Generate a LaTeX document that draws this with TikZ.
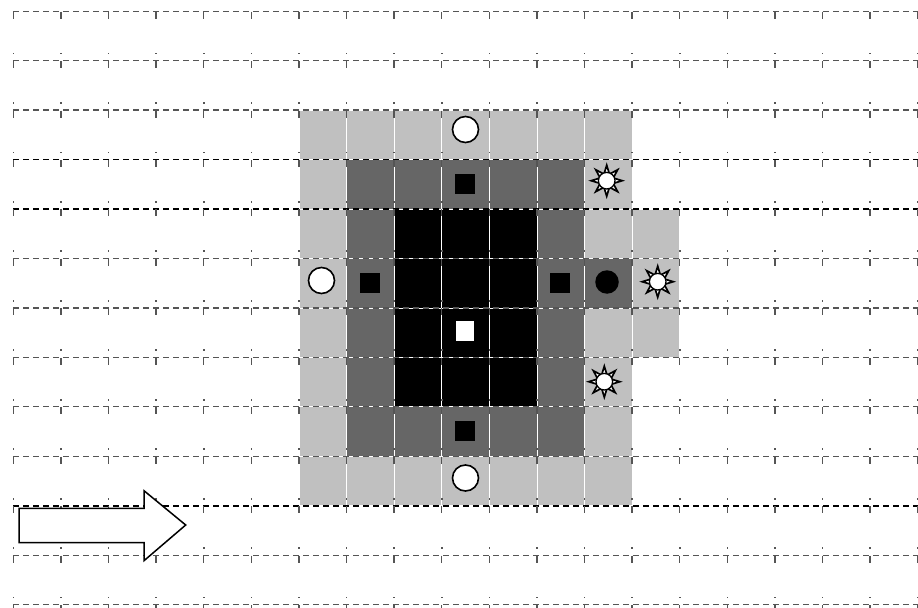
\documentclass[tikz,border=0pt]{standalone}
\usetikzlibrary{shapes.geometric}
\definecolor{lgray}{HTML}{C0C0C0}
\definecolor{dgray}{HTML}{666666}
\definecolor{gridgray}{HTML}{555555}
\newcommand\cellfill[3]{\fill[#3, draw=white, line width=0.8bp] ({13.3+47.6*#1},{11.2+49.45*#2}) rectangle ++(47.6,49.45);}
\tikzset{
  gridline/.style={gridgray, line width=1.3bp, dash pattern=on 5.5bp off 4.5bp},
  darkline/.style={black, line width=1.8bp, dash pattern=on 5.5bp off 4.5bp},
  tickmark/.style={gridgray, line width=1.3bp},
  wcirc/.style={circle, draw=black, fill=white, line width=1.6bp, minimum size=26bp, inner sep=0pt},
  bcirc/.style={circle, fill=black, minimum size=23.5bp, inner sep=0pt},
  bsq/.style={rectangle, fill=black, minimum size=20bp, inner sep=0pt},
  wsq/.style={rectangle, fill=white, minimum width=18.5bp, minimum height=20bp, inner sep=0pt},
  sunpic/.pic={
    \foreach \a in {0,45,...,315}{
      \filldraw[fill=white, draw=black, line width=1.7bp, line join=miter] (\a+20:7.5) -- (\a:15.5) -- (\a-20:7.5) -- cycle;
    }
    \filldraw[fill=white, draw=black, line width=1.3bp] (0,0) circle (8.3);
  }
}
\begin{document}
\begin{tikzpicture}[x=1bp,y=-1bp]
\useasboundingbox (0,0) rectangle (918,608);
\fill[white] (0,0) rectangle (918,608);
% light gray cells
\foreach \c in {6,...,12}{\foreach \r in {2,...,9}{\cellfill{\c}{\r}{lgray}}}
\foreach \r in {4,5,6}{\cellfill{13}{\r}{lgray}}
% dark gray cells
\foreach \c in {7,...,11}{\foreach \r in {3,...,8}{\cellfill{\c}{\r}{dgray}}}
\cellfill{12}{5}{dgray}
% black cells
\foreach \c in {8,9,10}{\foreach \r in {4,...,7}{\cellfill{\c}{\r}{black}}}
% grid lines
\foreach \r in {0,1,2,5,6,7,8,9,11,12}{
  \draw[gridline] (13.3,{11.2+49.45*\r}) -- (918,{11.2+49.45*\r});
}
\foreach \r in {3,4,10}{
  \draw[darkline] (13.3,{11.2+49.45*\r}) -- (918,{11.2+49.45*\r});
}
\foreach \r in {0,...,12}{
  \foreach \c in {0,...,19}{
    \draw[tickmark] ({13.3+47.6*\c},{11.2+49.45*\r+0.5}) -- ++(0,7);
  }
}
\foreach \r in {1,...,12}{
  \foreach \c in {0,...,19}{
    \fill[gridgray] ({13.3+47.6*\c-0.8},{11.2+49.45*\r-8}) rectangle ++(1.6,1.8);
  }
}
% markers
\node[wcirc] (wc1) at (465.5,129.5) {};
\node[wcirc] (wc2) at (465.5,478) {};
\node[wcirc] (wc3) at (321.5,280.5) {};
\node[bsq] (bs1) at (465,184) {};
\node[bsq] (bs2) at (370,282.7) {};
\node[bsq] (bs3) at (560,282.7) {};
\node[bsq] (bs4) at (465,430.7) {};
\node[wsq] (ws1) at (465,331) {};
\node[bcirc] (bc1) at (607,282) {};
\pic (sun1) at (606.7,180.7) {sunpic};
\pic (sun2) at (657.7,281.7) {sunpic};
\pic (sun3) at (604.3,381.7) {sunpic};
% block arrow
\draw[fill=white, draw=black, line width=1.5bp, line join=miter]
  (19,508.3) -- (144,508.3) -- (144,490.7) -- (185.7,525) -- (144,560.7) -- (144,542.7) -- (19,542.7) -- cycle;
\end{tikzpicture}
\end{document}
